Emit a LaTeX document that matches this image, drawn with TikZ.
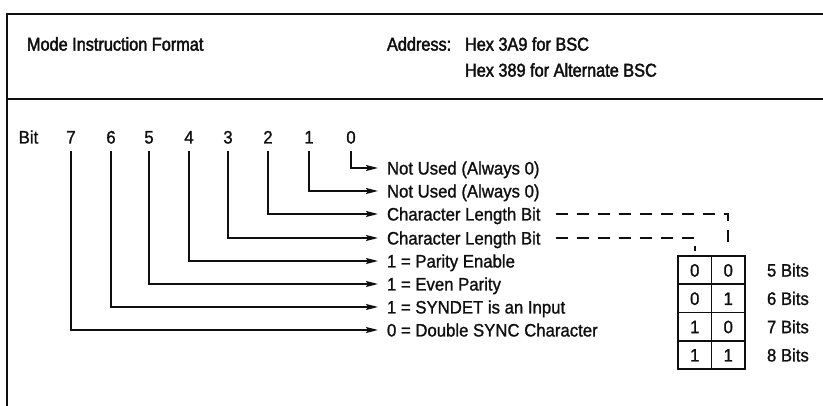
\documentclass[tikz,border=0pt]{standalone}
\usepackage{fontspec}
\setmainfont{Liberation Sans}[FakeBold=1.2, FakeStretch=0.93]
\newfontfamily\headfont{Liberation Sans}[FakeBold=2.2, FakeStretch=0.88]
\usetikzlibrary{arrows.meta,positioning}
\definecolor{ModeInk}{gray}{0.06}
\tikzset{
    mode/diagram/.style={
        x=1pt, y=-1pt,
        draw=ModeInk,
        text=ModeInk,
        line width=1.6pt,
        font=\fontsize{18pt}{21pt}\selectfont,
        every node/.style={inner sep=0pt, outer sep=0pt}
    },
    mode/frame/.style={draw=ModeInk, line width=2pt},
    mode/title/.style={
        anchor=west, font=\headfont\fontsize{18.5pt}{22pt}\selectfont
    },
    mode/bit/.style={text height=13pt, text depth=0pt, inner ysep=7.5pt},
    mode/entry/.style={
        anchor=west, text height=13pt, text depth=0pt, inner xsep=9pt
    },
    mode/lead/.style={
        draw=ModeInk, line width=1.6pt,
        -{Stealth[length=12pt, width=6pt, inset=2pt]}
    },
    mode/select/.style={
        draw=ModeInk, line width=1.7pt,
        dash pattern=on 12pt off 9pt,
        shorten <=6pt, shorten >=5pt
    },
    mode/cell/.style={
        draw=ModeInk, line width=1.9pt,
        minimum width=33.5pt, minimum height=28.3pt,
        text height=13pt, text depth=0pt
    },
    mode/size/.style={text height=13pt, text depth=0pt}
}

\begin{document}
\begin{tikzpicture}[mode/diagram]
    \useasboundingbox (0,0) rectangle (823,406);

    % Frame and heading.
    \draw[mode/frame] (823,14) -- (7,14) -- (7,406);
    \draw[mode/frame] (7,99) -- (823,99);
    \node[mode/title] (format) at (27,44) {Mode Instruction Format};
    \node[mode/title] (address) at (387,44) {Address:};
    \node[mode/title] (bsc) at (465,44) {Hex 3A9 for BSC};
    \node[mode/title] (altbsc) at (465,70) {Hex 389 for Alternate BSC};

    % Bit positions.
    \node[mode/bit] (bitlabel) at (28.5,137) {Bit};
    \foreach \b/\x in {7/71,6/111,5/149,4/189,3/228,2/268,1/309,0/351}
        \node[mode/bit] (b\b) at (\x,137) {\b};

    % Meaning of each bit.
    \node[mode/entry] (t0) at (378,168) {Not Used (Always 0)};
    \node[mode/entry] (t1) at (378,191) {Not Used (Always 0)};
    \node[mode/entry] (t2) at (378,214) {Character Length Bit};
    \node[mode/entry] (t3) at (378,238) {Character Length Bit};
    \node[mode/entry] (t4) at (378,261) {1 = Parity Enable};
    \node[mode/entry] (t5) at (378,284) {1 = Even Parity};
    \node[mode/entry] (t6) at (378,307) {1 = SYNDET is an Input};
    \node[mode/entry] (t7) at (378,330) {0 = Double SYNC Character};
    \foreach \b in {0,...,7}
        \draw[mode/lead] (b\b) |- (t\b);

    % Character length table.
    \node[mode/cell] (c11) at (694.75,270.1) {0};
    \node[mode/cell, right=0pt of c11] (c12) {0};
    \node[mode/cell, below=0pt of c11] (c21) {0};
    \node[mode/cell, right=0pt of c21] (c22) {1};
    \node[mode/cell, below=0pt of c21] (c31) {1};
    \node[mode/cell, right=0pt of c31] (c32) {0};
    \node[mode/cell, below=0pt of c31] (c41) {1};
    \node[mode/cell, right=0pt of c41] (c42) {1};
    \node[mode/size, right=22pt of c12] (s5) {5 Bits};
    \node[mode/size, right=22pt of c22] (s6) {6 Bits};
    \node[mode/size, right=22pt of c32] (s7) {7 Bits};
    \node[mode/size, right=22pt of c42] (s8) {8 Bits};

    \draw[mode/select] (t2) -| (c12);
    \draw[mode/select] (t3) -| (c11);
\end{tikzpicture}
\end{document}
